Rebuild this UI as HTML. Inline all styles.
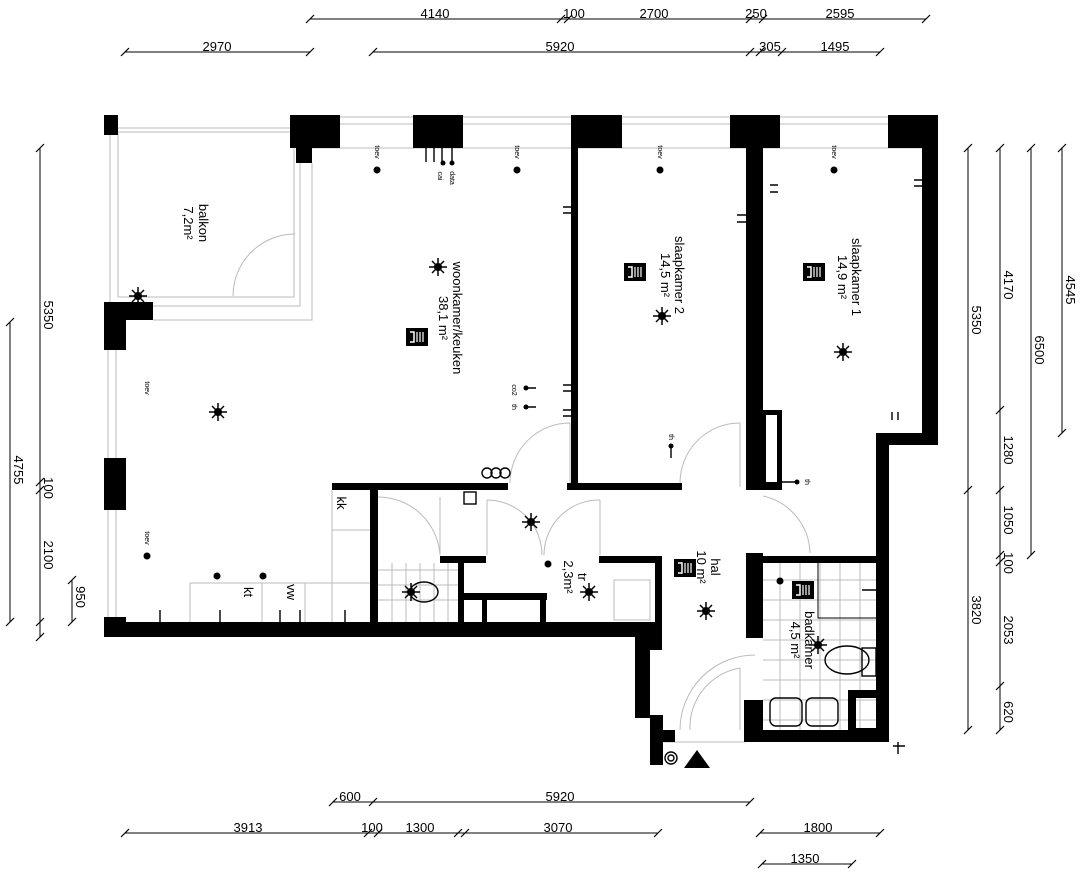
<!DOCTYPE html>
<html><head><meta charset="utf-8"><style>
html,body{margin:0;padding:0;background:#fff}
svg{display:block;font-family:"Liberation Sans",sans-serif}
</style></head><body>
<svg width="1084" height="878" viewBox="0 0 1084 878" xmlns="http://www.w3.org/2000/svg">
<defs>
<g id="sun"><circle r="4" fill="#000"/><path d="M-9 0H9M0-9V9M-6-6L6 6M-6 6L6-6" stroke="#000" stroke-width="1.5"/></g>
<g id="rad"><rect x="-11" y="-9" width="22" height="18" fill="#000"/><path d="M-7-5h4v10h-4" stroke="#fff" stroke-width="1.5" fill="none"/><path d="M0-5v10M3-5v10M6-5v10" stroke="#fff" stroke-width="1.2"/></g>
</defs>
<g stroke="#000" stroke-width="1" fill="none">
<path d="M310 19H926M310 52H125M373 52H880M333 802H750M125 833H658M760 833H880M762 864H852"/>
<path d="M40 148V637M10 322V622M72 580V622M968 148V730M1000 148V730M1031 148V555M1062 148V433"/>
<g stroke-width="1.2">
<path d="M306 23l8-8M557 23l8-8M564 23l8-8M746 23l8-8M759 23l8-8M922 23l8-8"/>
<path d="M121 56l8-8M306 56l8-8M369 56l8-8M746 56l8-8M756 56l8-8M778 56l8-8M876 56l8-8"/>
<path d="M329 806l8-8M369 806l8-8M746 806l8-8"/>
<path d="M121 837l8-8M364 837l8-8M374 837l8-8M454 837l8-8M461 837l8-8M654 837l8-8M756 837l8-8M876 837l8-8M758 868l8-8M848 868l8-8"/>
<path d="M36 152l8-8M36 486l8-8M36 494l8-8M36 626l8-8M36 641l8-8M6 326l8-8M6 626l8-8M68 584l8-8M68 626l8-8"/>
<path d="M964 152l8-8M964 494l8-8M964 734l8-8M996 152l8-8M996 414l8-8M996 494l8-8M996 559l8-8M996 566l8-8M996 690l8-8M996 734l8-8M1027 152l8-8M1027 559l8-8M1058 152l8-8M1058 437l8-8"/>
</g>
</g>
<g font-size="13" fill="#000" text-anchor="middle">
<text x="435" y="18">4140</text><text x="574" y="18">100</text><text x="654" y="18">2700</text><text x="756" y="18">250</text><text x="840" y="18">2595</text>
<text x="217" y="51">2970</text><text x="560" y="51">5920</text><text x="770" y="51">305</text><text x="835" y="51">1495</text>
<text x="350" y="801">600</text><text x="560" y="801">5920</text>
<text x="248" y="832">3913</text><text x="372" y="832">100</text><text x="420" y="832">1300</text><text x="558" y="832">3070</text><text x="818" y="832">1800</text><text x="805" y="863">1350</text>
<text transform="translate(44 315) rotate(90)">5350</text>
<text transform="translate(14 470) rotate(90)">4755</text>
<text transform="translate(44 488) rotate(90)">100</text>
<text transform="translate(44 555) rotate(90)">2100</text>
<text transform="translate(76 597) rotate(90)">950</text>
<text transform="translate(972 320) rotate(90)">5350</text>
<text transform="translate(972 610) rotate(90)">3820</text>
<text transform="translate(1004 285) rotate(90)">4170</text>
<text transform="translate(1004 450) rotate(90)">1280</text>
<text transform="translate(1004 520) rotate(90)">1050</text>
<text transform="translate(1004 563) rotate(90)">100</text>
<text transform="translate(1004 630) rotate(90)">2053</text>
<text transform="translate(1004 712) rotate(90)">620</text>
<text transform="translate(1035 350) rotate(90)">6500</text>
<text transform="translate(1066 290) rotate(90)">4545</text>
</g>
<g stroke="#bbb" stroke-width="1" fill="none">
<rect x="110" y="128" width="190" height="178"/><rect x="118" y="132" width="176" height="165"/>
<path d="M110 115V300M153 320H312V163M312 148H922M340 117H413M463 117H571M622 117H730M780 117H888M340 124H413M463 124H571M622 124H730M780 124H888"/>
<path d="M108 350V458M116 350V458M108 510V617M116 510V617"/>
<path d="M233 296A62 62 0 0 1 295 234"/>
<path d="M510 483A60 60 0 0 1 570 423M680 483A60 60 0 0 1 740 423M570 487V423M740 487V423"/>
<path d="M378 497A62 62 0 0 1 440 555M440 497V555M487 500A55 55 0 0 1 542 555M487 500V555M544 555A55 55 0 0 1 600 500M600 500V555"/>
<path d="M763 496A60 60 0 0 1 810 553"/>
<path d="M680 730A75 75 0 0 1 755 655M690 730A60 60 0 0 1 740 668M740 668V730M662 742H745"/>
<path d="M332 490V622M332 530H370M190 583H370M190 583V622M262 583V622M305 583V622"/>
<path d="M378 570H458M378 585H458M378 600H458M392 563V622M406 563V622M420 563V622M434 563V622M448 563V622"/>
<path d="M763 580H876M763 600H876M763 620H876M763 640H876M763 660H876M763 680H876M763 700H876M763 720H876M780 563V730M800 563V730M820 563V730M840 563V730M860 563V730"/>
<path d="M818 563V618H876" stroke="#000"/>
<path d="M614 580H650V620H614Z"/>
</g>
<g fill="#000">
<path d="M290 115H340V148H312V163H296V148H290Z"/>
<rect x="413" y="115" width="50" height="33"/>
<rect x="571" y="115" width="51" height="33"/>
<rect x="730" y="115" width="50" height="33"/>
<rect x="888" y="115" width="50" height="33"/>
<rect x="104" y="115" width="14" height="20"/>
<path d="M922 148H938V445H889V742H876V433H922Z"/>
<rect x="571" y="148" width="7" height="342"/>
<path d="M746 148H763V410H782V490H746ZM766 415V482H777V415Z" fill-rule="evenodd"/>
<rect x="567" y="483" width="115" height="7"/>
<rect x="332" y="483" width="176" height="7"/>
<path d="M104 302H153V320H126V350H104Z"/>
<rect x="104" y="458" width="22" height="52"/>
<rect x="104" y="617" width="22" height="20"/>
<rect x="104" y="622" width="558" height="15"/>
<rect x="370" y="483" width="8" height="139"/>
<rect x="440" y="556" width="46" height="7"/>
<rect x="458" y="556" width="6" height="66"/>
<rect x="464" y="593" width="83" height="7"/>
<rect x="482" y="600" width="5" height="22"/>
<rect x="540" y="593" width="6" height="29"/>
<rect x="599" y="556" width="63" height="7"/>
<rect x="655" y="556" width="7" height="81"/>
<path d="M628 637H662V650H650V718H635V637Z"/>
<rect x="650" y="715" width="13" height="50"/>
<rect x="662" y="730" width="13" height="12"/>
<rect x="746" y="553" width="17" height="85"/>
<rect x="763" y="556" width="113" height="7"/>
<rect x="744" y="700" width="19" height="42"/>
<rect x="744" y="730" width="145" height="12"/>
<path d="M848 690H888V730H848ZM856 698V728H880V698Z" fill-rule="evenodd"/>
<path d="M697 750L710 768H684Z"/>
</g>
<use href="#sun" x="438" y="267"/><use href="#sun" x="218" y="412"/><use href="#sun" x="138" y="296"/>
<use href="#sun" x="662" y="316"/><use href="#sun" x="843" y="352"/><use href="#sun" x="531" y="522"/>
<use href="#sun" x="589" y="592"/><use href="#sun" x="411" y="592"/><use href="#sun" x="706" y="611"/><use href="#sun" x="818" y="645"/>
<use href="#rad" x="417" y="337"/><use href="#rad" x="635" y="272"/><use href="#rad" x="814" y="272"/><use href="#rad" x="685" y="568"/><use href="#rad" x="803" y="590"/>
<g fill="#000"><circle cx="377" cy="170" r="3.5"/><circle cx="517" cy="170" r="3.5"/><circle cx="660" cy="170" r="3.5"/><circle cx="834" cy="170" r="3.5"/><circle cx="147" cy="556" r="3.5"/><circle cx="217" cy="576" r="3.5"/><circle cx="263" cy="576" r="3.5"/><circle cx="548" cy="564" r="3.5"/><circle cx="780" cy="581" r="3.5"/><circle cx="443" cy="163" r="2.5"/><circle cx="452" cy="163" r="2.5"/><circle cx="526" cy="388" r="2.5"/><circle cx="526" cy="407" r="2.5"/><circle cx="671" cy="446" r="2.5"/><circle cx="797" cy="482" r="2.5"/></g>
<g stroke="#000" stroke-width="1.4" fill="none">
<path d="M426 148V162M434 148V162M442 148V162M452 148V162M526 388h10M526 407h10M671 446v12M782 482h15"/>
<path d="M563 207h8M563 213h8M563 385h8M563 391h8M563 410h8M563 416h8M737 215h9M737 222h9M778 185h-8M778 192h-8M922 180h-8M922 186h-8M892 420v-8M898 420v-8"/>
<path d="M160 622v-12M220 622v-12M280 622v-12M300 622v-12M345 622v-12M862 590h14M898 742v12M893 746h12"/>
<ellipse cx="847" cy="660" rx="22" ry="14"/><rect x="862" y="648" width="14" height="28"/>
<ellipse cx="424" cy="592" rx="14" ry="10"/>
<rect x="770" y="698" width="32" height="28" rx="6"/><rect x="806" y="698" width="32" height="28" rx="6"/>
<circle cx="671" cy="758" r="6"/><circle cx="671" cy="758" r="3"/>
<circle cx="487" cy="473" r="5"/><circle cx="496" cy="473" r="5"/><circle cx="505" cy="473" r="5"/>
<rect x="464" y="492" width="12" height="12"/>
</g>
<g font-size="13" fill="#000" text-anchor="middle">
<text transform="translate(199 223) rotate(90)">balkon</text>
<text transform="translate(184 223) rotate(90)">7,2m²</text>
<text transform="translate(453 318) rotate(90)">woonkamer/keuken</text>
<text transform="translate(439 318) rotate(90)">38,1 m²</text>
<text transform="translate(675 275) rotate(90)">slaapkamer 2</text>
<text transform="translate(661 275) rotate(90)">14,5 m²</text>
<text transform="translate(852 277) rotate(90)">slaapkamer 1</text>
<text transform="translate(838 277) rotate(90)">14,9 m²</text>
<text transform="translate(711 567) rotate(90)">hal</text>
<text transform="translate(697 567) rotate(90)">10 m²</text>
<text transform="translate(805 640) rotate(90)">badkamer</text>
<text transform="translate(791 640) rotate(90)">4,5 m²</text>
<text transform="translate(578 577) rotate(90)">tr</text>
<text transform="translate(564 577) rotate(90)">2,3m²</text>
<text transform="translate(337 503) rotate(90)">kk</text>
<text transform="translate(244 592) rotate(90)">kt</text>
<text transform="translate(287 592) rotate(90)">vw</text>
<text transform="translate(636 698) rotate(90)">mk</text>
</g>
<g font-size="7" fill="#000" text-anchor="middle">
<text transform="translate(375 152) rotate(90)">toev</text><text transform="translate(515 152) rotate(90)">toev</text>
<text transform="translate(658 152) rotate(90)">toev</text><text transform="translate(832 152) rotate(90)">toev</text>
<text transform="translate(145 388) rotate(90)">toev</text><text transform="translate(145 538) rotate(90)">toev</text>
<text transform="translate(438 176) rotate(90)">cai</text><text transform="translate(450 178) rotate(90)">data</text>
<text transform="translate(512 390) rotate(90)">co2</text><text transform="translate(512 407) rotate(90)">th</text>
<text transform="translate(669 437) rotate(90)">th</text><text transform="translate(805 482) rotate(90)">th</text>
</g>
</svg>
</body></html>
